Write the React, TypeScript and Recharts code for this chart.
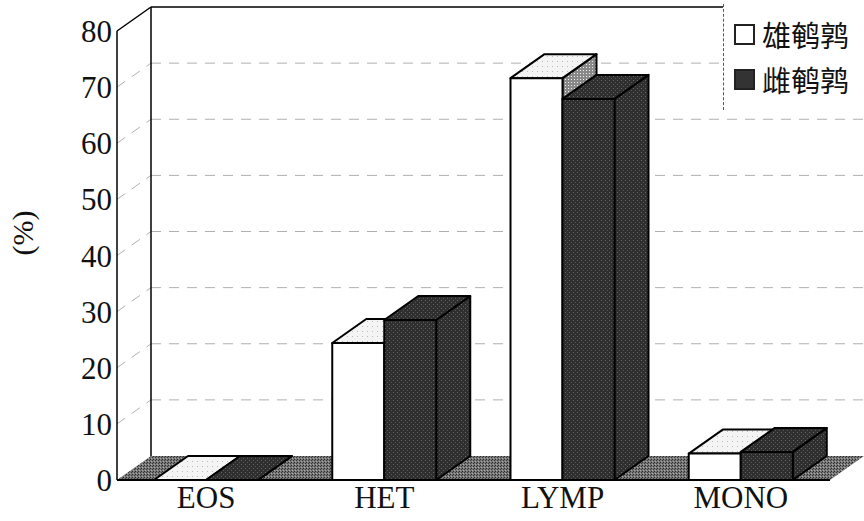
import React from "react";
import {
  BarChart,
  Bar,
  XAxis,
  YAxis,
  CartesianGrid,
  Legend,
  ReferenceArea,
} from "recharts";

const categories = ["EOS", "HET", "LYMP", "MONO"];
const maleValues = [0, 24.4, 71.6, 4.7];
const femaleValues = [0, 28.5, 67.9, 5.0];
const yTicks = [0, 10, 20, 30, 40, 50, 60, 70, 80];
const seriesNames = ["雄鹌鹑", "雌鹌鹑"];

const data = categories.map((c, i) => ({
  name: c,
  male: maleValues[i],
  female: femaleValues[i],
}));

// depth offset of the fake 3D
const DX = 34;
const DY = 24;

const serif = "'Liberation Serif', 'DejaVu Serif', serif";

function Box(props: any) {
  const { x, y, width: w, height: h, dark } = props;
  const front = dark ? "url(#darkTex)" : "#ffffff";
  const top = dark ? "url(#darkTex)" : "url(#lightTex)";
  const side = dark ? "url(#darkTex)" : "url(#midTex)";
  return (
    <g stroke="#000" strokeWidth={2} strokeLinejoin="round">
      <polygon
        points={`${x + w},${y} ${x + w + DX},${y - DY} ${x + w + DX},${y + h - DY} ${x + w},${y + h}`}
        fill={side}
      />
      <polygon
        points={`${x},${y} ${x + DX},${y - DY} ${x + w + DX},${y - DY} ${x + w},${y}`}
        fill={top}
      />
      <rect x={x} y={y} width={w} height={h} fill={front} />
    </g>
  );
}

function Walls(props: any) {
  const { x, y, width: w, height: h } = props;
  const bottom = y + h;
  return (
    <g>
      {/* floor */}
      <polygon
        points={`${x},${bottom} ${x + DX},${bottom - DY} ${x + w + DX},${bottom - DY} ${x + w},${bottom}`}
        fill="url(#floorTex)"
        stroke="none"
      />
      {/* side wall edges */}
      <line x1={x} y1={y} x2={x + DX} y2={y - DY} stroke="#000" strokeWidth={1.5} />
      <line x1={x + DX} y1={y - DY} x2={x + DX} y2={bottom - DY} stroke="#000" strokeWidth={1.5} />
      <line x1={x + DX} y1={y - DY} x2={x + w + DX} y2={y - DY} stroke="#000" strokeWidth={1.5} />
    </g>
  );
}

function GridLine(props: any) {
  const { x1, y1, x2, index } = props;
  if (index === 0 || index === yTicks.length - 1) return <g key={props.key} />;
  return (
    <g key={props.key} stroke="#b0b0b0" strokeWidth={1} strokeDasharray="10 8">
      <line x1={x1} y1={y1} x2={x1 + DX} y2={y1 - DY} />
      <line x1={x1 + DX} y1={y1 - DY} x2={x2 + DX} y2={y1 - DY} />
    </g>
  );
}

function LegendBox() {
  return (
    <div
      style={{
        background: "#fff",
        borderLeft: "1px dashed #555",
        padding: "8px 0 8px 10px",
        fontFamily: "'Noto Sans CJK SC', sans-serif",
        fontSize: 29,
        lineHeight: "45px",
        color: "#111",
        whiteSpace: "nowrap",
      }}
    >
      {seriesNames.map((n, i) => (
        <div key={n} style={{ display: "flex", alignItems: "center" }}>
          <span
            style={{
              display: "inline-block",
              width: 17,
              height: 17,
              border: "2px solid #222",
              background: i === 0 ? "#fff" : "#333",
              marginRight: 7,
            }}
          />
          {n}
        </div>
      ))}
    </div>
  );
}

export default function App() {
  return (
    <div style={{ width: 864, height: 521, background: "#fff" }}>
      <style>{`body{margin:0}`}</style>
      <BarChart
        width={864}
        height={521}
        data={data}
        margin={{ top: 31, right: 34, bottom: 0, left: 0 }}
        barGap={0}
        barSize={52}
      >
        <defs>
          <pattern id="darkTex" width="4" height="4" patternUnits="userSpaceOnUse">
            <rect width="4" height="4" fill="#2e2e2e" />
            <rect x="1" y="0" width="1" height="1" fill="#6a6a6a" />
            <rect x="3" y="2" width="1" height="1" fill="#5a5a5a" />
          </pattern>
          <pattern id="floorTex" width="3" height="3" patternUnits="userSpaceOnUse">
            <rect width="3" height="3" fill="#777" />
            <rect x="0" y="0" width="1" height="1" fill="#2a2a2a" />
            <rect x="2" y="1" width="1" height="1" fill="#3a3a3a" />
            <rect x="1" y="2" width="1" height="1" fill="#aaa" />
          </pattern>
          <pattern id="lightTex" width="5" height="5" patternUnits="userSpaceOnUse">
            <rect width="5" height="5" fill="#f4f4f4" />
            <rect x="2" y="1" width="1" height="1" fill="#bbb" />
          </pattern>
          <pattern id="midTex" width="3" height="3" patternUnits="userSpaceOnUse">
            <rect width="3" height="3" fill="#888" />
            <rect x="1" y="1" width="1" height="1" fill="#eee" />
          </pattern>
        </defs>
        <ReferenceArea y1={0} y2={80} shape={<Walls />} ifOverflow="visible" />
        <CartesianGrid vertical={false} horizontal={GridLine} />
        <XAxis
          dataKey="name"
          height={41}
          tickLine={false}
          axisLine={{ stroke: "#000", strokeWidth: 2 }}
          tick={{ fontFamily: serif, fontSize: 31, fill: "#111" }}
          tickMargin={0}
        />
        <YAxis
          width={117}
          domain={[0, 80]}
          ticks={yTicks}
          interval={0}
          tickLine={false}
          tickSize={0}
          axisLine={{ stroke: "#000", strokeWidth: 1.5 }}
          tick={{ fontFamily: serif, fontSize: 31, fill: "#111" }}
          tickMargin={5}
          label={{
            value: "(%)",
            angle: -90,
            position: "insideLeft",
            offset: 22,
            style: { fontFamily: serif, fontSize: 30, fill: "#111" },
          }}
        />
        <Legend
          verticalAlign="middle"
          align="center"
          layout="vertical"
          content={<LegendBox />}
          wrapperStyle={{ top: 4, right: 0, left: "auto", width: 141 }}
        />
        <Bar
          dataKey="male"
          name={seriesNames[0]}
          isAnimationActive={false}
          shape={(p: any) => <Box {...p} dark={false} />}
        />
        <Bar
          dataKey="female"
          name={seriesNames[1]}
          isAnimationActive={false}
          shape={(p: any) => <Box {...p} dark={true} />}
        />
      </BarChart>
    </div>
  );
}
